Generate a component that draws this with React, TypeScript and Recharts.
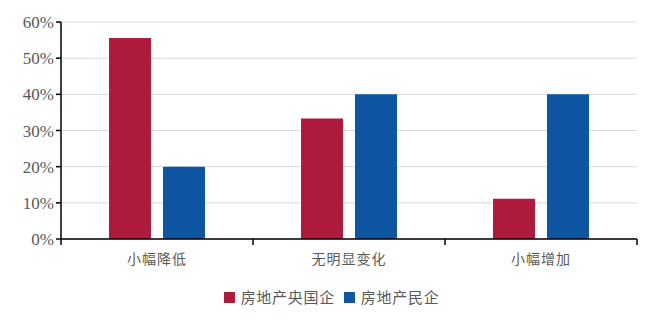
import { BarChart, Bar, XAxis, YAxis, CartesianGrid, Legend } from "recharts";

const categories = ["小幅降低", "无明显变化", "小幅增加"];
const stateOwned = [55.6, 33.3, 11.1];
const privateOwned = [20, 40, 40];
const yTicks = [0, 10, 20, 30, 40, 50, 60];
const boundaryTicks = [0, 1, 2, 3];

const seriesNames = ["房地产央国企", "房地产民企"];
const RED = "#AF1B3D";
const BLUE = "#0E56A1";

const data = categories.map((name, i) => ({
  name,
  idx: i + 0.5,
  a: stateOwned[i],
  b: privateOwned[i],
}));

const serif = '"Liberation Serif", "Times New Roman", serif';
const cjk = '"Noto Sans CJK SC", sans-serif';

const renderLegend = () => (
  <div
    style={{
      display: "flex",
      justifyContent: "center",
      alignItems: "center",
      fontFamily: cjk,
      fontSize: 15,
      color: "#595959",
      letterSpacing: 0.7,
      paddingTop: 17,
      paddingLeft: 26,
      lineHeight: "20px",
    }}
  >
    {seriesNames.map((n, i) => (
      <span key={n} style={{ display: "flex", alignItems: "center", marginRight: i === 0 ? 9 : 0 }}>
        <span
          style={{
            width: 11,
            height: 11,
            background: i === 0 ? RED : BLUE,
            display: "inline-block",
            marginRight: 6,
          }}
        />
        {n}
      </span>
    ))}
  </div>
);

const App = () => {
  return (
    <div style={{ position: "absolute", left: 0, top: 0, background: "#fff" }}>
      <BarChart
        width={660}
        height={319}
        data={data}
        margin={{ top: 22, right: 23, left: 0, bottom: 0 }}
        barGap={12}
        barCategoryGap="25%"
      >
        <CartesianGrid vertical={false} stroke="#d9d9d9" xAxisId="label" />
        <XAxis
          xAxisId="base"
          type="number"
          dataKey="idx"
          domain={[0, 3]}
          ticks={boundaryTicks}
          tickFormatter={() => ""}
          height={1}
          axisLine={{ stroke: "#000", strokeWidth: 1.5 }}
          tickLine={{ stroke: "#000", strokeWidth: 1.5 }}
          tickSize={6}
        />
        <XAxis
          dataKey="name"
          xAxisId="label"
          tickLine={false}
          axisLine={false}
          height={30}
          tick={{ fill: "#595959", fontSize: 14, fontFamily: cjk, letterSpacing: 1 }}
          tickMargin={8}
        />
        <YAxis
          width={61}
          domain={[0, 60]}
          ticks={yTicks}
          interval={0}
          tickFormatter={(v: number) => `${v}%`}
          axisLine={{ stroke: "#000", strokeWidth: 1.5 }}
          tickLine={{ stroke: "#000", strokeWidth: 1.5 }}
          tickSize={5}
          tick={{ fill: "#595959", fontSize: 17, fontFamily: serif }}
        />
        <Legend verticalAlign="bottom" height={49} content={renderLegend} />
        <Bar dataKey="a" name={seriesNames[0]} fill={RED} xAxisId="label" isAnimationActive={false} />
        <Bar dataKey="b" name={seriesNames[1]} fill={BLUE} xAxisId="label" isAnimationActive={false} />
      </BarChart>
    </div>
  );
};

export default App;
